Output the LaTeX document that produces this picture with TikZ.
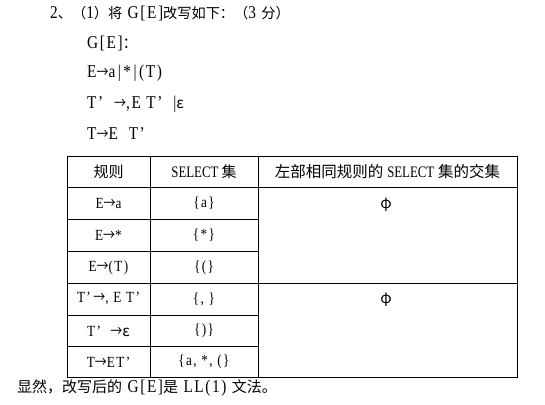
\documentclass[tikz,border=0pt]{standalone}
\usepackage{fontspec}
\setmainfont[FakeStretch=0.85,LetterSpace=9]{Liberation Serif}
\newfontfamily\hdr[FakeStretch=0.8]{Liberation Serif}
\newfontfamily\cjk{Noto Sans CJK SC}
\newcommand\zh[1]{{\fontsize{15}{17}\cjk #1}}
\newcommand\zs[1]{{\fontsize{14.2}{17}\cjk #1}}
\newcommand\ar{\scalebox{0.8}[1]{\zh{→}}}
\begin{document}
\begin{tikzpicture}[x=1pt,y=-1pt,
  txt/.style={anchor=west,inner sep=0pt,font=\fontsize{18}{20}\selectfont},
  cell/.style={inner sep=0pt,font=\fontsize{15.5}{17}\selectfont},
  head/.style={inner sep=0pt,font=\fontsize{16}{17}\selectfont\hdr},
  rule/.style={line width=0.9pt,black}]
\useasboundingbox (0,0) rectangle (545,404);
% text above
\node[txt] (l1) at (50,13) {2\zs{、（}1\zs{）将} G[E]\zs{改写如下：（}3 \zs{分）}};
\node[txt] (l2) at (87,43) {G[E]\zh{：}};
\node[txt] (l3) at (87,73) {E\ar a\hspace{2.5pt}|\hspace{2.5pt}*\hspace{2.5pt}|\hspace{2.5pt}(T)};
\node[txt] (l4) at (87,104) {T’\ \ \ar,E\ T’\ \ |\zh{ε}};
\node[txt] (l5) at (87,134) {T\ar E\ \ T’};
% table lines
\draw[rule] (67,156.5) rectangle (517,377.7);
\draw[rule] (67,187.3) -- (517,187.3);
\draw[rule] (67,283.3) -- (517,283.3);
\draw[rule] (150,156.5) -- (150,377.7);
\draw[rule] (258,156.5) -- (258,377.7);
\foreach \yy in {219.3,251.7,315,346.7} \draw[rule] (67,\yy) -- (258,\yy);
% header
\node[head] (h1) at (108.5,172) {\zh{规则}};
\node[head] (h2) at (204,172) {SELECT \zh{集}};
\node[head] (h3) at (387.5,172) {{\fontsize{15.5}{17}\cjk 左部相同规则的}\hspace{4pt}SELECT\hspace{4pt}{\fontsize{15.5}{17}\cjk 集的交集}};
% rows
\node[cell] (r1a) at (108.5,203.5) {E\ar a};
\node[cell] (r1b) at (204,203.5) {\{a\}};
\node[cell] (r2a) at (108.5,235.5) {E\ar *};
\node[cell] (r2b) at (204,235.5) {\{*\}};
\node[cell] (r3a) at (108.5,267.5) {E\ar(T)};
\node[cell] (r3b) at (204,267.5) {\{(\}};
\node[cell] (r4a) at (108.5,299) {T’\,\ar, E T’};
\node[cell] (r4b) at (204,299) {\{, \}};
\node[cell] (r5a) at (108.5,331) {T’\ \ \ar\zh{ε}};
\node[cell] (r5b) at (204,331) {\{)\}};
\node[cell] (r6a) at (108.5,362) {T\ar ET’};
\node[cell] (r6b) at (204,362) {\{a, *, (\}};
\node[cell] (p1) at (386,205) {\zh{φ}};
\node[cell] (p2) at (386,300) {\zh{φ}};
% bottom line
\node[txt] (l6) at (17,388) {\zh{显然，改写后的} G[E]\zh{是}\ LL(1)\ \zh{文法。}};
\end{tikzpicture}
\end{document}
